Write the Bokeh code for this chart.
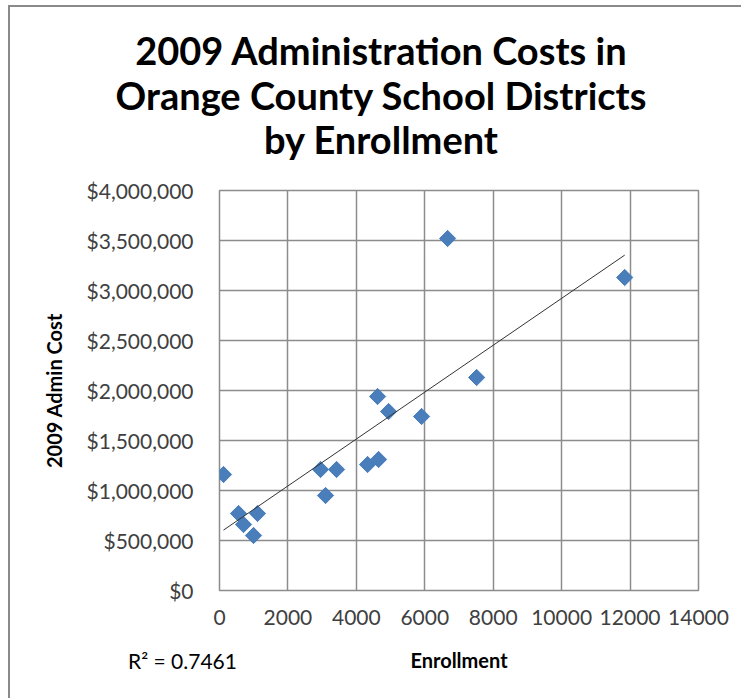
import numpy as np
from bokeh.plotting import figure
from bokeh.models import (Label, NumeralTickFormatter, SingleIntervalTicker, Range1d,
                          BasicTickFormatter)
from bokeh.embed import file_html
from bokeh.resources import INLINE

# ---- data ----
enrollment = [117, 556, 1111, 702, 994, 2953, 3421, 3099, 4328, 4649,
              4620, 4942, 5906, 6667, 7515, 11843]
admin_cost = [1160000, 770000, 770000, 660000, 550000, 1210000, 1210000, 950000,
              1260000, 1310000, 1940000, 1790000, 1740000, 3520000, 2130000, 3130000]

title_lines = ["2009 Administration Costs in",
               "Orange County School Districts",
               "by Enrollment"]
x_label = "Enrollment"
y_label = "2009 Admin Cost"
r2_text = "R\u00b2 = 0.7461"

x_max, x_step = 14000, 2000
y_max, y_step = 4000000, 500000

# page geometry (canvas offset by the chart-area border)
CX, CY = 10, 7                      # canvas origin on the page
W, H = 743 - CX, 700 - CY
F_L, F_R, F_T, F_B = 219, 698, 190, 590   # frame edges, page coords

p = figure(width=W, height=H, output_backend="svg", toolbar_location=None,
           x_range=Range1d(0, x_max), y_range=Range1d(0, y_max),
           min_border_left=F_L - CX, min_border_right=(CX + W) - F_R,
           min_border_top=F_T - CY, min_border_bottom=(CY + H) - F_B)
p.styles = {"margin-left": "8px", "margin-top": "5px",
            "border-left": "2px solid #8a8a8a", "border-top": "2px solid #8a8a8a"}

p.background_fill_color = "white"
p.border_fill_color = "white"
p.outline_line_color = "#8c8c8c"
p.outline_line_width = 1.5

xt = SingleIntervalTicker(interval=x_step, num_minor_ticks=0)
yt = SingleIntervalTicker(interval=y_step, num_minor_ticks=0)
p.xaxis.ticker = xt
p.yaxis.ticker = yt
p.xgrid.ticker = xt
p.ygrid.ticker = yt
for g in (p.xgrid, p.ygrid):
    g.grid_line_color = "#8c8c8c"
    g.grid_line_width = 1.5

p.xaxis.formatter = BasicTickFormatter(use_scientific=False)
p.yaxis.formatter = NumeralTickFormatter(format="$0,0")

for ax in (p.xaxis, p.yaxis):
    ax.axis_line_color = None
    ax.major_tick_line_color = None
    ax.minor_tick_line_color = None
    ax.major_tick_out = 0
    ax.major_tick_in = 0
    ax.major_label_text_font = "Lato"
    ax.major_label_text_font_size = "21px"
    ax.major_label_text_color = "#404040"
    ax.axis_label_text_font = "Lato"
    ax.axis_label_text_font_style = "bold"
    ax.axis_label_text_font_size = "20px"
    ax.axis_label_text_color = "black"

p.xaxis.axis_label = x_label
p.yaxis.axis_label = y_label
p.xaxis.major_label_standoff = 19
p.yaxis.major_label_standoff = 26
p.xaxis.axis_label_standoff = 20
p.yaxis.axis_label_standoff = 18

# ---- scatter points ----
p.scatter(enrollment, admin_cost, marker="square", angle=np.pi / 4, size=11.5,
          fill_color="#4a7ebb", line_color="#4a7ebb", line_width=1)

# ---- linear trendline ----
slope, intercept = np.polyfit(enrollment, admin_cost, 1)
tx = np.array([min(enrollment), max(enrollment)])
p.line(tx, slope * tx + intercept, line_color="#333333", line_width=1)

# ---- R^2 label (first box of the top panel, bottom edge = frame top) ----
r2_size = 21
p.add_layout(Label(x=182 - F_L, y=F_T - 660, x_units="screen", y_units="screen",
                   text=r2_text, text_align="center", text_baseline="middle",
                   text_font="Lato", text_font_size=f"{r2_size}px",
                   text_color="black"), "above")

# ---- title: one multi-line label, stacked above the R^2 box ----
title_box_bottom = F_T - 1.2 * r2_size
p.add_layout(Label(x=381 - F_L, y=title_box_bottom - 94, x_units="screen", y_units="screen",
                   text="\n".join(title_lines),
                   text_align="center", text_baseline="middle",
                   text_line_height=0.97,
                   text_font="Lato", text_font_style="bold",
                   text_font_size="38px", text_color="black"), "above")

open("out.html", "w").write(file_html(p, INLINE))
